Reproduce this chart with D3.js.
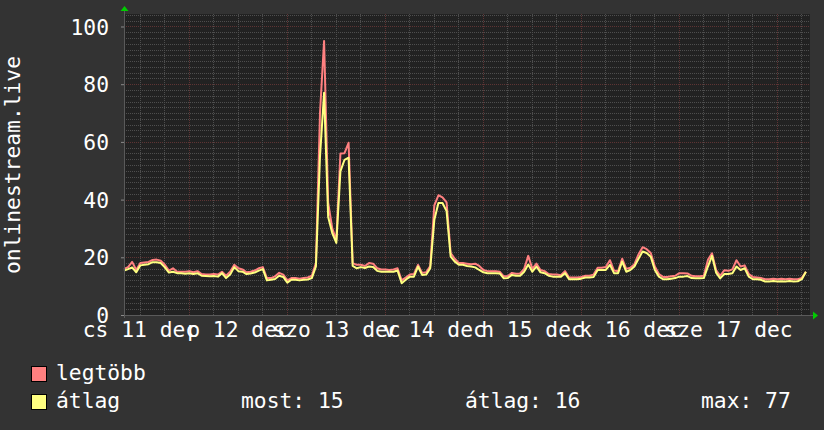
<!DOCTYPE html>
<html><head><meta charset="utf-8">
<script src="https://cdn.jsdelivr.net/npm/d3@7/dist/d3.min.js"></script>
<style>
html,body{margin:0;padding:0;background:#333333;}
svg{display:block;}
text{font-family:"DejaVu Sans Mono",monospace;fill:#ffffff;}
</style></head>
<body><svg id="c" width="824" height="430"></svg>
<script>
// ---- data (hourly, starting 11 Dec 08:05) ----
const startTime = new Date(2025, 11, 11, 8, 5);
const avgValues = [
15.4,15.9,16.5,14.8,17.2,17.4,17.6,18.3,18.3,18.0,16.5,14.7,15.0,14.5,14.5,14.3,14.5,14.2,14.5,13.6,
13.5,13.4,13.5,13.3,14.5,12.8,14.0,16.6,15.2,15.0,14.2,14.4,14.7,15.4,15.9,12.0,12.2,12.5,13.6,13.2,
11.2,12.2,12.2,12.0,12.2,12.3,12.8,16.8,55,77,34,28.4,25,49.8,53.8,54.5,17,16.2,16.6,16.3,
16.8,16.6,15.3,15.0,15.0,15.0,15.0,15.4,11,12.2,13.3,13.3,16.8,13.9,14,16.2,33,38.8,38.8,36,
20.2,18.5,17.4,17.4,17,16.8,16.5,15.6,14.8,14.5,14.5,14.5,14.4,12.7,12.8,13.9,13.6,13.6,15,17.5,
15,16.8,14.8,14.5,13.6,13.3,13.3,13.3,14.5,12.4,12.4,12.4,12.6,13,13,13.2,15.6,15.6,15.6,17.4,
14.5,14.5,18.5,15,15.6,16.8,19.5,22,21.5,20.2,15.6,13.3,12.4,12.4,12.6,12.8,13.3,13.3,13.5,12.8,
12.7,12.7,12.8,16.8,20.5,14.7,12.7,14.2,14.2,14.5,16.8,15.6,16.2,13.3,12.4,12.4,12.2,11.6,11.6,11.8,
11.6,11.7,11.6,11.8,11.6,11.7,12.4,15
];
const maxValues = [
16,16.6,18.4,15.6,18,18.2,18.4,19.1,19.2,18.8,17.4,15.4,16.2,15,15,15,15.2,14.8,15.2,14.2,
14,14,14.2,14,15,13.6,15,17.4,16.2,15.8,14.8,15,15.4,16.2,16.6,12.8,12.8,13.4,14.6,14,
12,12.8,12.8,12.6,12.8,13,13.6,18,70,95,38.9,30,26,56,56.1,59.7,18,17.4,17.4,17,
18,17.8,16.2,15.8,15.8,15.6,15.8,16.2,12,13,14,14.2,17.4,14.6,14.8,17,38,41.5,40.8,39,
21.5,19.5,18,18,17.8,17.6,17.8,17,15.6,15.2,15.2,15.2,15,13.4,13.5,14.6,14.3,14.4,16,20.5,
16,17.8,15.6,15.2,14.2,14,14,13.8,15.2,13,13,13,13.2,13.6,13.6,14,16.4,16.4,16.6,19,
15.4,15.2,19.5,16,16.4,17.6,21,23.5,22.8,21.5,16.8,14.2,13.2,13.2,13.4,13.6,14.5,14.5,14.4,13.6,
13.4,13.4,13.6,19.1,21.4,15.6,13.6,15.5,15.3,15.8,19,16.8,17.2,14.2,13.2,13,12.8,12.4,12.4,12.6,
12.4,12.6,12.4,12.6,12.4,12.4,12.8,15
];
const yTicks = [0, 20, 40, 60, 80, 100];
const dayLabels = ["cs 11 dec", "p 12 dec", "szo 13 dec", "v 14 dec", "h 15 dec", "k 16 dec", "sze 17 dec"];
const seriesNames = ["legtöbb", "átlag"];
const seriesColors = ["#ff8080", "#ffff80"];
const statLabels = ["most: 15", "átlag: 16", "max: 77"];
const yTitle = "onlinestream.live";

// ---- layout ----
const L = 124, R = 810, T = 14, B = 315;
const HOUR = 3600e3;
const endTime = new Date(+startTime + 7 * 24 * HOUR);
const x = d3.scaleTime().domain([startTime, endTime]).range([L, R]);
const y = d3.scaleLinear().domain([0, 104.33]).range([B, T]);

const svg = d3.select("#c");
svg.append("rect").attr("width", 824).attr("height", 430).attr("fill", "#333333");
svg.append("rect").attr("x", L).attr("y", T).attr("width", R - L).attr("height", B - T).attr("fill", "#222222");

const grid = svg.append("g").attr("shape-rendering", "crispEdges");
const minorC = "#4e4e4e", majorC = "#5e3434";
// horizontal grid
d3.range(2, 105, 2).forEach(v => {
  const major = v % 20 === 0;
  grid.append("line").attr("x1", L).attr("x2", R)
    .attr("y1", Math.round(y(v)) + 0.5).attr("y2", Math.round(y(v)) + 0.5)
    .attr("stroke", major ? majorC : minorC).attr("stroke-dasharray", "1,1");
});
// vertical grid every 6 h, major at midnight
d3.timeHour.every(6).range(startTime, endTime).forEach(t => {
  const major = t.getHours() === 0;
  const px = Math.round(x(t)) + 0.5;
  grid.append("line").attr("x1", px).attr("x2", px).attr("y1", T).attr("y2", B)
    .attr("stroke", major ? majorC : minorC).attr("stroke-dasharray", "1,1");
});

// series
const times = avgValues.map((_, i) => new Date(+startTime + i * HOUR));
const line = d3.line().x((d, i) => x(times[i])).y(d => y(d)).curve(d3.curveLinear);
svg.append("path").datum(maxValues).attr("d", line).attr("fill", "none")
  .attr("stroke", seriesColors[0]).attr("stroke-width", 2).attr("stroke-linejoin", "round");
svg.append("path").datum(avgValues).attr("d", line).attr("fill", "none")
  .attr("stroke", seriesColors[1]).attr("stroke-width", 2).attr("stroke-linejoin", "round");

// axes lines
const ax = svg.append("g").attr("shape-rendering", "crispEdges");
ax.append("line").attr("x1", L - 3).attr("x2", R + 3).attr("y1", B + 0.5).attr("y2", B + 0.5).attr("stroke", "#5a5a5a");
ax.append("line").attr("x1", L + 0.5).attr("x2", L + 0.5).attr("y1", B + 3).attr("y2", T - 4).attr("stroke", "#5a5a5a");
// arrows
svg.append("path").attr("d", `M${L - 3.5},${T - 3} L${L + 4.5},${T - 3} L${L + 0.5},${T - 8} Z`).attr("fill", "#00cc00");
svg.append("path").attr("d", `M${R + 3},${B - 3.5} L${R + 3},${B + 4.5} L${R + 8},${B + 0.5} Z`).attr("fill", "#00cc00");

// y axis labels
const yAxis = d3.axisLeft(y).tickValues(yTicks).tickSize(3).tickPadding(12).tickFormat(d3.format("d"));
const gy = svg.append("g").attr("transform", `translate(${L},0)`).call(yAxis);
gy.select(".domain").remove();
gy.selectAll(".tick line").attr("stroke", "#8a8a8a");
gy.selectAll("text").attr("fill", "#ffffff").style("font-size", "21.3px")
  .style("font-family", '"DejaVu Sans Mono", monospace').attr("dy", "0.36em");

// x axis labels at noon of each day
const labelTimes = dayLabels.map((_, i) => new Date(2025, 11, 11 + i, 12, 0));
const xAxis = d3.axisBottom(x).tickValues(labelTimes).tickSize(0).tickPadding(0)
  .tickFormat((d, i) => dayLabels[i]);
const gx = svg.append("g").attr("transform", `translate(0,${B})`).call(xAxis);
gx.select(".domain").remove();
gx.selectAll("text").attr("fill", "#ffffff").style("font-size", "21.3px")
  .style("font-family", '"DejaVu Sans Mono", monospace').attr("y", 22).attr("dy", 0);

// y title
svg.append("text").attr("transform", "translate(20,165) rotate(-90)").attr("text-anchor", "middle")
  .style("font-size", "21.3px").text(yTitle);

// legend
const legRows = [380, 408];
seriesNames.forEach((n, i) => {
  svg.append("rect").attr("x", 31.5).attr("y", legRows[i] - 13.5).attr("width", 15).attr("height", 15)
    .attr("fill", seriesColors[i]).attr("stroke", "#000").attr("stroke-width", 1);
  svg.append("text").attr("x", 56).attr("y", legRows[i]).style("font-size", "21.3px").text(n);
});
const statX = [241, 465, 701];
statLabels.forEach((s, i) => {
  svg.append("text").attr("x", statX[i]).attr("y", legRows[1]).style("font-size", "21.3px").text(s);
});
</script></body></html>
